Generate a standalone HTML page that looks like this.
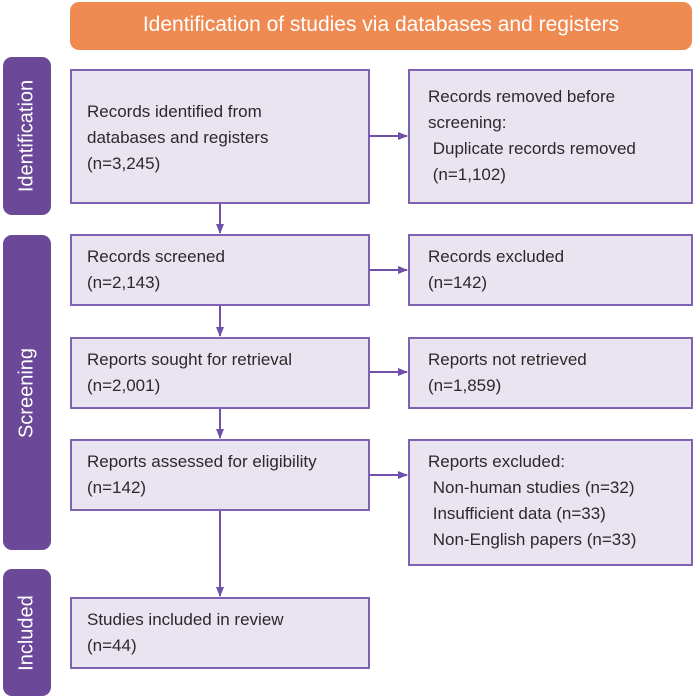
<!DOCTYPE html>
<html><head><style>
body{margin:0;width:695px;height:698px;background:#fff;position:relative;overflow:hidden;font-family:"Liberation Sans",sans-serif;}
.b{position:absolute;box-sizing:border-box;background:#e9e4f0;border:2px solid #8062b3;color:#2a2a2a;font-size:17px;line-height:26px;padding-left:15px;}
.s{position:absolute;background:#6b4898;border-radius:9px;width:48px;left:3px;}
.s span{position:absolute;left:50%;top:50%;transform:translate(-50%,-50%) rotate(-90deg);color:#fff;font-size:20px;white-space:nowrap;}
.h{position:absolute;left:70px;top:2px;width:622px;height:48px;background:#f08a53;border-radius:9px;color:#fff;font-size:21px;text-align:center;line-height:46px;}
svg{position:absolute;left:0;top:0}
</style></head><body>
<div class="h">Identification of studies via databases and registers</div>
<div class="s" style="top:57px;height:158px"><span>Identification</span></div>
<div class="s" style="top:235px;height:315px"><span>Screening</span></div>
<div class="s" style="top:569px;height:127px"><span>Included</span></div>

<div class="b" style="left:70px;top:69px;width:300px;height:135px;padding-top:28px">Records identified from<br>databases and registers<br>(n=3,245)</div>
<div class="b" style="left:408px;top:69px;width:285px;height:135px;padding-top:13px;padding-left:18px">Records removed before<br>screening:<br>&nbsp;Duplicate records removed<br>&nbsp;(n=1,102)</div>

<div class="b" style="left:70px;top:234px;width:300px;height:72px;padding-top:8px">Records screened<br>(n=2,143)</div>
<div class="b" style="left:408px;top:234px;width:285px;height:72px;padding-top:8px;padding-left:18px">Records excluded<br>(n=142)</div>

<div class="b" style="left:70px;top:337px;width:300px;height:72px;padding-top:8px">Reports sought for retrieval<br>(n=2,001)</div>
<div class="b" style="left:408px;top:337px;width:285px;height:72px;padding-top:8px;padding-left:18px">Reports not retrieved<br>(n=1,859)</div>

<div class="b" style="left:70px;top:439px;width:300px;height:72px;padding-top:8px">Reports assessed for eligibility<br>(n=142)</div>
<div class="b" style="left:408px;top:439px;width:285px;height:127px;padding-top:8px;padding-left:18px">Reports excluded:<br>&nbsp;Non-human studies (n=32)<br>&nbsp;Insufficient data (n=33)<br>&nbsp;Non-English papers (n=33)</div>

<div class="b" style="left:70px;top:597px;width:300px;height:72px;padding-top:8px">Studies included in review<br>(n=44)</div>

<svg width="695" height="698">
<defs><marker id="a" markerWidth="10" markerHeight="8" refX="9" refY="4" orient="auto" markerUnits="userSpaceOnUse"><path d="M0,0 L10,4 L0,8 z" fill="#7050a8"/></marker></defs>
<g stroke="#7050a8" stroke-width="2" fill="none">
<line x1="220" y1="204" x2="220" y2="233" marker-end="url(#a)"/>
<line x1="220" y1="306" x2="220" y2="336" marker-end="url(#a)"/>
<line x1="220" y1="409" x2="220" y2="438" marker-end="url(#a)"/>
<line x1="220" y1="511" x2="220" y2="596" marker-end="url(#a)"/>
<line x1="370" y1="136" x2="407" y2="136" marker-end="url(#a)"/>
<line x1="370" y1="270" x2="407" y2="270" marker-end="url(#a)"/>
<line x1="370" y1="372" x2="407" y2="372" marker-end="url(#a)"/>
<line x1="370" y1="475" x2="407" y2="475" marker-end="url(#a)"/>
</g></svg>
</body></html>
